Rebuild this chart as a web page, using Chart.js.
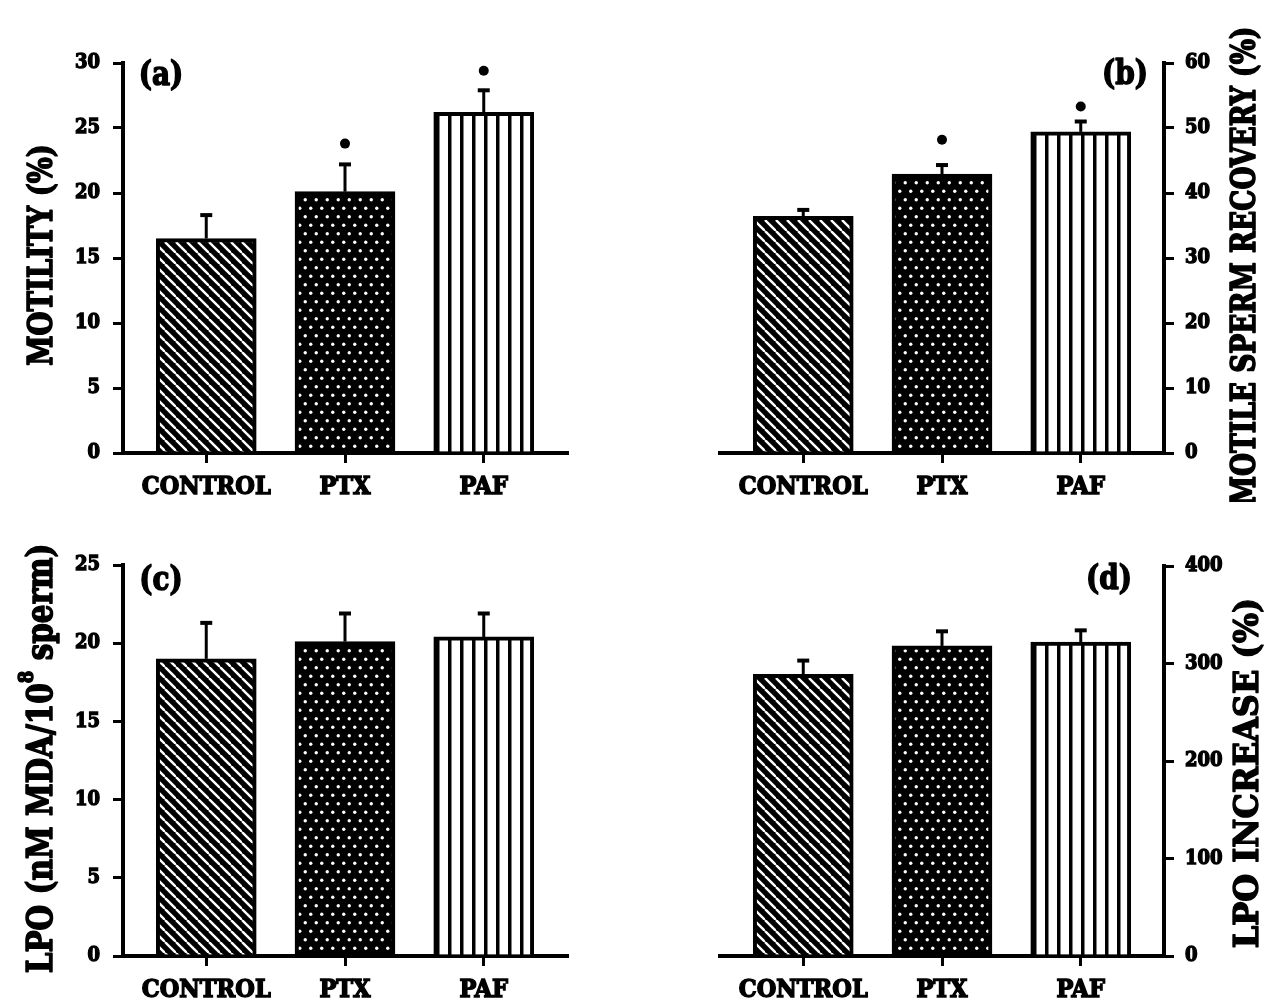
<!DOCTYPE html>
<html>
<head>
<meta charset="utf-8">
<script src="https://cdn.jsdelivr.net/npm/chart.js@4.4.1/dist/chart.umd.min.js"></script>
<style>
  body { margin: 0; background: #fff; }
  .panel { position: absolute; width: 633px; height: 502px; }
</style>
</head>
<body>
<div class="panel" style="left:0;top:0"><canvas id="chartA" width="633" height="502"></canvas></div>
<div class="panel" style="left:633px;top:0"><canvas id="chartB" width="633" height="502"></canvas></div>
<div class="panel" style="left:0;top:502px"><canvas id="chartC" width="633" height="502"></canvas></div>
<div class="panel" style="left:633px;top:502px"><canvas id="chartD" width="633" height="502"></canvas></div>
<script>
// groups on the x axis
const groups = ["CONTROL", "PTX", "PAF"];

// (a) motility (%)
const motility = [16.5, 20.1, 26.2];
const motilityErr = [1.8, 2.1, 1.7];
const motilityStar = [null, 23.8, 29.4];
const motilityTicks = [0, 5, 10, 15, 20, 25, 30];

// (b) motile sperm recovery (%)
const recovery = [36.4, 42.9, 49.4];
const recoveryErr = [1.0, 1.4, 1.6];
const recoveryStar = [null, 48.2, 53.3];
const recoveryTicks = [0, 10, 20, 30, 40, 50, 60];

// (c) LPO (nM MDA/10^8 sperm)
const lpo = [19.0, 20.1, 20.4];
const lpoErr = [2.3, 1.8, 1.5];
const lpoTicks = [0, 5, 10, 15, 20, 25];

// (d) LPO increase (%)
const lpoIncrease = [289, 318, 322];
const lpoIncreaseErr = [14, 15, 12];
const lpoIncreaseTicks = [0, 100, 200, 300, 400];

const FONT = "'DejaVu Serif', serif";
const TICK_FONT = "'DejaVu Serif Condensed', 'DejaVu Serif', serif";
Chart.defaults.font.family = FONT;
Chart.defaults.font.weight = 'bold';
Chart.defaults.color = '#000';

// fill patterns for the three bars
function makePattern(kind) {
    const c = document.createElement('canvas');
    const g = c.getContext('2d');
    if (kind === 'hatch') {
        c.width = 11; c.height = 11;
        g.fillStyle = '#000'; g.fillRect(0, 0, 11, 11);
        g.strokeStyle = '#fff'; g.lineWidth = 2.4;
        [-11, 0, 11].forEach(o => {
            g.beginPath(); g.moveTo(o, 0); g.lineTo(o + 11, 11); g.stroke();
        });
    } else if (kind === 'dots') {
        c.width = 11; c.height = 17;
        g.fillStyle = '#000'; g.fillRect(0, 0, 11, 17);
        g.fillStyle = '#fff';
        [[2.75, 4.25], [8.25, 12.75]].forEach(([x, y]) => {
            g.beginPath(); g.arc(x, y, 1.7, 0, Math.PI * 2); g.fill();
        });
    } else {
        c.width = 12; c.height = 12;
        g.fillStyle = '#fff'; g.fillRect(0, 0, 12, 12);
        g.fillStyle = '#000'; g.fillRect(4, 0, 3.5, 12);
    }
    return g.createPattern(c, 'repeat');
}
const fills = [makePattern('hatch'), makePattern('dots'), makePattern('stripes')];

// heavy text: fill plus a thin stroke
function heavyText(ctx, text, x, y) {
    ctx.fillText(text, x, y);
    ctx.strokeText(text, x, y);
}

// error bars, panel letter and rotated axis title
const extras = {
    id: 'extras',
    afterDatasetsDraw(chart, args, opts) {
        const { ctx, chartArea } = chart;
        const y = chart.scales.y;
        const meta = chart.getDatasetMeta(0);
        ctx.save();
        ctx.strokeStyle = '#000';
        ctx.fillStyle = '#000';
        meta.data.forEach((bar, i) => {
            const top = y.getPixelForValue(opts.values[i] + opts.errors[i]);
            ctx.lineWidth = 3;
            ctx.beginPath(); ctx.moveTo(bar.x, bar.y); ctx.lineTo(bar.x, top); ctx.stroke();
            ctx.lineWidth = 4;
            ctx.beginPath(); ctx.moveTo(bar.x - 6, top); ctx.lineTo(bar.x + 6, top); ctx.stroke();
        });

        ctx.lineWidth = 1.3;
        ctx.lineJoin = 'round';
        ctx.textAlign = 'center';
        ctx.textBaseline = 'middle';
        ctx.save();
        ctx.translate(opts.letterX, opts.letterY);
        ctx.scale(1, 1.2);
        ctx.font = `bold 28px ${FONT}`;
        heavyText(ctx, opts.letter, 0, 0);
        ctx.restore();

        // title pieces, drawn reading bottom to top
        const big = `bold ${opts.titleSize}px ${FONT}`;
        const small = `bold ${Math.round(opts.titleSize * 0.62)}px ${FONT}`;
        let total = 0;
        opts.title.forEach(p => { ctx.font = p.sup ? small : big; total += ctx.measureText(p.text).width; });
        const tx = opts.side === 'left' ? chartArea.left - opts.titleGap : chartArea.right + opts.titleGap;
        const ty = (chartArea.top + chartArea.bottom) / 2 + (opts.titleShift || 0);
        ctx.translate(tx, ty);
        ctx.rotate(-Math.PI / 2);
        ctx.scale(1, opts.titleStretch);
        ctx.textAlign = 'left';
        let pos = -total / 2;
        opts.title.forEach(p => {
            ctx.font = p.sup ? small : big;
            heavyText(ctx, p.text, pos, p.sup ? -opts.titleSize * 0.45 : 0);
            pos += ctx.measureText(p.text).width;
        });
        ctx.restore();
    }
};

function makePanel(id, p) {
    const datasets = [{
        type: 'bar',
        data: p.values.map((v, i) => ({ x: i + 1, y: v })),
        backgroundColor: fills,
        borderColor: '#000',
        borderWidth: 4,
        barThickness: 100
    }];
    if (p.stars) {
        datasets.push({
            type: 'scatter',
            data: p.stars.flatMap((v, i) => v == null ? [] : [{ x: i + 1, y: v }]),
            pointRadius: 5,
            pointBackgroundColor: '#000',
            pointBorderWidth: 0
        });
    }
    const right = p.side === 'right';
    const tickFont = { family: TICK_FONT, size: 20, weight: 'bold' };
    return new Chart(document.getElementById(id).getContext('2d'), {
        type: 'bar',
        data: { datasets },
        options: {
            responsive: false,
            animation: false,
            layout: { padding: { top: p.top, bottom: 0, left: right ? 87 : 0, right: right ? 0 : 66 } },
            plugins: {
                legend: { display: false },
                tooltip: { enabled: false },
                extras: {
                    values: p.values, errors: p.errors, letter: p.letter,
                    letterX: p.letterX, letterY: p.letterY,
                    title: p.title, titleSize: p.titleSize, titleStretch: p.titleStretch,
                    side: p.side, titleGap: p.titleGap, titleShift: p.titleShift
                }
            },
            scales: {
                x: {
                    type: 'linear', min: 0.4, max: 3.6, z: 1, offset: false,
                    afterBuildTicks: axis => { axis.ticks = groups.map((g, i) => ({ value: i + 1 })); },
                    afterFit: axis => { axis.height = p.xHeight; },
                    grid: { offset: false, drawOnChartArea: false, tickLength: 10, lineWidth: 3, color: '#000' },
                    border: { width: 4, color: '#000' },
                    ticks: {
                        callback: (v, i) => groups[i],
                        font: { family: TICK_FONT, size: 25, weight: 'bold' }, color: '#000',
                        textStrokeColor: '#000', textStrokeWidth: 1.4,
                        padding: 9, maxRotation: 0, autoSkip: false
                    }
                },
                y: {
                    position: p.side, min: 0, max: p.ticks[p.ticks.length - 1],
                    afterBuildTicks: axis => { axis.ticks = p.ticks.map(v => ({ value: v })); },
                    afterFit: axis => { axis.width = right ? 102 : 123; },
                    grid: { drawOnChartArea: false, tickLength: 10, lineWidth: 3, color: '#000' },
                    border: { width: 4, color: '#000' },
                    ticks: {
                        font: tickFont, color: '#000', textStrokeColor: '#000', textStrokeWidth: 1.3,
                        padding: right ? 11 : 13
                    }
                }
            }
        },
        plugins: [extras]
    });
}

makePanel('chartA', {
    values: motility, errors: motilityErr, stars: motilityStar, ticks: motilityTicks,
    side: 'left', top: 63, xHeight: 49,
    letter: '(a)', letterX: 161, letterY: 76,
    title: [{ text: 'MOTILITY (%)' }], titleSize: 27.5, titleStretch: 1.25, titleGap: 80, titleShift: -3
});
makePanel('chartB', {
    values: recovery, errors: recoveryErr, stars: recoveryStar, ticks: recoveryTicks,
    side: 'right', top: 63, xHeight: 49,
    letter: '(b)', letterX: 1125 - 633, letterY: 75,
    title: [{ text: 'MOTILE SPERM RECOVERY (%)' }], titleSize: 26.5, titleStretch: 1.25, titleGap: 82, titleShift: 8
});
makePanel('chartC', {
    values: lpo, errors: lpoErr, ticks: lpoTicks,
    side: 'left', top: 63, xHeight: 48,
    letter: '(c)', letterX: 161, letterY: 79,
    title: [{ text: 'LPO (nM MDA/10' }, { text: '8', sup: true }, { text: ' sperm)' }],
    titleSize: 29.5, titleStretch: 1.18, titleGap: 80, titleShift: -2
});
makePanel('chartD', {
    values: lpoIncrease, errors: lpoIncreaseErr, ticks: lpoIncreaseTicks,
    side: 'right', top: 64, xHeight: 48,
    letter: '(d)', letterX: 1109 - 633, letterY: 78,
    title: [{ text: 'LPO INCREASE (%)' }], titleSize: 32, titleStretch: 1.05, titleGap: 85, titleShift: 12
});
</script>
</body>
</html>
